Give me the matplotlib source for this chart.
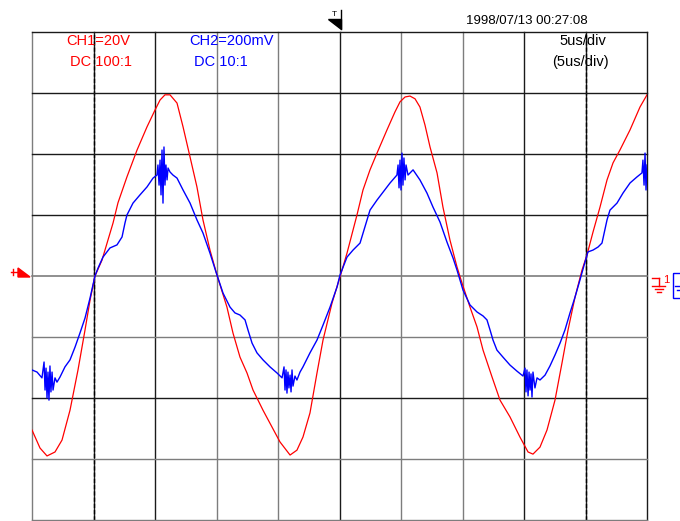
import matplotlib
matplotlib.use("Agg")
import matplotlib.pyplot as plt
from matplotlib.patches import Polygon, Rectangle

# CH1 (red) : time in us, voltage in V
ch1_trace = [
    (0.0, -50.5), (0.65, -56.4), (1.22, -59.0), (1.87, -57.7), (2.44, -53.8), (3.09, -44.0),
    (3.74, -30.8), (4.31, -17.7), (4.72, -7.9), (5.12, 0.0), (5.69, 5.2), (6.59, 17.4),
    (6.99, 24.0), (7.72, 32.5), (8.54, 41.3), (9.35, 48.9), (10.0, 54.4), (10.41, 57.7),
    (10.81, 59.4), (11.22, 59.4), (11.79, 56.7), (12.28, 48.9), (12.85, 39.0), (13.41, 29.2),
    (13.90, 18.4), (14.47, 8.5), (15.04, 0.3), (15.85, -10.2), (16.34, -18.7), (16.91, -26.6),
    (17.48, -31.8), (17.97, -37.4), (18.78, -44.0), (19.51, -49.5), (20.16, -54.4), (20.98, -58.7),
    (21.54, -57.1), (22.03, -52.8), (22.60, -44.9), (23.17, -31.8), (23.66, -21.0), (24.39, -8.9),
    (25.04, -0.3), (25.61, 7.5), (26.42, 20.0), (26.91, 28.2), (27.48, 34.8), (28.05, 40.3),
    (28.86, 47.9), (29.51, 53.8), (29.92, 57.1), (30.33, 58.7), (30.73, 59.0), (31.14, 58.1),
    (31.54, 55.4), (31.95, 49.5), (32.36, 42.3), (32.93, 33.8), (33.41, 22.6), (33.98, 11.8),
    (34.55, 3.0), (34.96, -2.3), (35.61, -10.2), (36.18, -16.7), (36.67, -24.3), (37.40, -33.1),
    (38.05, -40.7), (38.86, -46.2), (39.67, -52.8), (40.33, -57.7), (40.73, -58.4), (41.30, -56.1),
    (41.87, -50.5), (42.52, -40.7), (43.09, -28.5), (43.58, -17.7), (44.15, -6.9), (44.72, 2.0),
    (45.12, 6.9), (45.61, 14.4), (46.18, 22.6), (46.75, 31.5), (47.24, 37.1), (47.80, 41.3),
    (48.62, 47.9), (49.43, 55.4), (50.0, 59.4),
]

# CH2 (blue) : time in us, voltage in mV
ch2_trace = [
    (0.0, -308), (0.41, -315), (0.81, -334), (0.98, -282), (1.06, -374), (1.14, -302),
    (1.22, -400), (1.30, -315), (1.38, -407), (1.46, -295), (1.54, -380), (1.63, -315),
    (1.71, -374), (1.87, -334), (2.03, -348), (2.28, -331), (2.68, -298), (3.09, -275),
    (3.50, -233), (3.90, -187), (4.31, -138), (4.72, -72), (5.12, 0), (5.37, 26),
    (5.77, 62), (6.34, 92), (6.91, 102), (7.32, 128), (7.56, 174), (7.72, 200),
    (8.21, 239), (8.78, 266), (9.35, 292), (9.84, 321), (10.16, 331), (10.24, 364),
    (10.33, 298), (10.41, 380), (10.49, 266), (10.57, 413), (10.65, 239), (10.73, 423),
    (10.81, 298), (10.89, 364), (10.98, 315), (11.06, 354), (11.22, 341), (11.46, 331),
    (11.79, 321), (12.28, 282), (12.85, 239), (13.41, 184), (13.90, 141), (14.47, 75),
    (15.04, 3), (15.53, -56), (16.10, -102), (16.50, -121), (16.91, -128), (17.32, -144),
    (17.56, -177), (17.89, -220), (18.29, -252), (18.78, -275), (19.35, -298), (19.92, -318),
    (20.33, -334), (20.49, -298), (20.57, -374), (20.65, -308), (20.73, -384), (20.81, -315),
    (20.89, -367), (20.98, -325), (21.06, -380), (21.14, -308), (21.22, -361), (21.38, -328),
    (21.54, -341), (21.79, -315), (22.03, -298), (22.60, -252), (23.17, -210), (23.66, -161),
    (24.23, -102), (24.80, -36), (25.04, 3), (25.61, 62), (26.10, 85), (26.67, 108),
    (27.07, 161), (27.48, 216), (28.05, 249), (28.54, 275), (29.11, 305), (29.67, 331),
    (29.76, 364), (29.84, 289), (29.92, 380), (30.0, 282), (30.08, 403), (30.16, 298),
    (30.24, 387), (30.33, 315), (30.41, 364), (30.57, 331), (30.98, 348), (31.54, 315),
    (32.11, 272), (32.60, 226), (33.17, 177), (33.74, 111), (34.23, 59), (34.55, 20),
    (35.04, -46), (35.61, -95), (36.18, -118), (36.67, -131), (36.99, -144), (37.24, -177),
    (37.48, -210), (37.80, -243), (38.29, -266), (38.86, -292), (39.43, -312), (39.92, -328),
    (40.08, -302), (40.16, -380), (40.24, -308), (40.33, -393), (40.41, -315), (40.49, -374),
    (40.57, -321), (40.65, -397), (40.73, -315), (40.89, -367), (41.06, -334), (41.30, -341),
    (41.71, -325), (42.11, -295), (42.52, -259), (42.93, -220), (43.33, -177), (43.74, -121),
    (44.15, -69), (44.55, -13), (44.96, 46), (45.20, 79), (45.61, 85), (46.02, 95),
    (46.34, 108), (46.75, 184), (46.99, 216), (47.56, 239), (48.05, 272), (48.62, 305),
    (49.19, 325), (49.59, 338), (49.67, 380), (49.76, 298), (49.84, 403), (49.92, 282),
    (50.0, 364),
]

time_per_div = 5.0      # us/div
ch1_per_div = 20.0      # V/div
ch2_per_div = 200.0     # mV/div
n_xdiv = 10
n_ydiv = 8

ch1_label = ["CH1=20V", "DC 100:1"]
ch2_label = ["CH2=200mV", "DC 10:1"]
timebase_label = ["5us/div", "(5us/div)"]
timestamp = "1998/07/13 00:27:08"

plt.rcParams['font.family'] = ['Liberation Sans', 'DejaVu Sans']

W, H = 680, 521
fig = plt.figure(figsize=(W / 100, H / 100), dpi=100)
ax = fig.add_axes([32 / W, 1 / H, 615 / W, 488 / H])
ax.set_xlim(0, n_xdiv * time_per_div)
ax.set_ylim(-n_ydiv / 2, n_ydiv / 2)
ax.axis('off')

black = '#1a1a1a'
grey = '#7d7d7d'
vcols = [grey, black, black, grey, grey, black, grey, grey, black, black, black]
hcols = [grey, grey, black, grey, grey, black, black, black, black]  # bottom -> top
for i in range(n_xdiv + 1):
    x = i * time_per_div
    ax.axvline(x, color=vcols[i], lw=1.0, clip_on=False, zorder=1)
    if i in (1, 9):
        ax.axvline(x, color='black', lw=1.0, ls=(0, (3, 1.5)), clip_on=False, zorder=1)
for j in range(n_ydiv + 1):
    y = j - n_ydiv / 2
    ax.axhline(y, color=hcols[j], lw=1.2 if j == 4 else 1.0, clip_on=False, zorder=1)

t1, v1 = zip(*ch1_trace)
t2, v2 = zip(*ch2_trace)
ax.plot(t1, [v / ch1_per_div for v in v1], color='#ff0000', lw=0.9, zorder=3)
ax.plot(t2, [v / ch2_per_div for v in v2], color='#0000ff', lw=1.0, zorder=4)

# overlay in screen pixels for the scope annotations
ov = fig.add_axes([0, 0, 1, 1], zorder=5)
ov.set_xlim(0, W)
ov.set_ylim(H, 0)
ov.axis('off')

fs = 10.5
ov.text(66, 41, ch1_label[0], color='#ff0000', fontsize=fs, ha='left', va='center')
ov.text(70, 62, ch1_label[1], color='#ff0000', fontsize=fs, ha='left', va='center')
ov.text(189, 41, ch2_label[0], color='#0000ff', fontsize=fs, ha='left', va='center')
ov.text(194, 62, ch2_label[1], color='#0000ff', fontsize=fs, ha='left', va='center')
ov.text(559, 41, timebase_label[0], color='black', fontsize=fs, ha='left', va='center')
ov.text(552, 62, timebase_label[1], color='black', fontsize=fs, ha='left', va='center')
ov.text(466, 21, timestamp, color='black', fontsize=9.5, ha='left', va='center')

# trigger position marker
ov.add_patch(Polygon([(328, 19), (341, 19), (341, 29)], closed=True, color='black'))
ov.plot([341, 341], [10, 29], color='black', lw=1.0)
ov.text(334, 14, "T", fontsize=6, ha='center', va='center', color='black')

# CH1 level marker (left)
ov.add_patch(Polygon([(18, 268), (30, 277), (18, 277)], closed=True, color='#ff0000'))
ov.plot([11, 18], [272, 272], color='#ff0000', lw=1.0)
ov.plot([13, 13], [269, 275], color='#ff0000', lw=1.0)

# ground marker (right)
red = '#ff0000'
ov.plot([652, 659], [278, 278], color=red, lw=1.0)
ov.plot([659, 659], [278, 286], color=red, lw=1.0)
ov.plot([652, 665], [286, 286], color=red, lw=1.0)
ov.plot([655, 663], [289, 289], color=red, lw=1.0)
ov.plot([657, 661], [292, 292], color=red, lw=1.0)
ov.text(666, 280, "1", color=red, fontsize=8, ha='center', va='center')
ov.add_patch(Rectangle((673, 273), 12, 25, fill=False, edgecolor='#0000ff', lw=1.0))
ov.plot([675, 685], [286, 286], color='#0000ff', lw=1.0)
ov.plot([677, 685], [290, 290], color='#0000ff', lw=1.0)

fig.savefig('out.png', dpi=100)
